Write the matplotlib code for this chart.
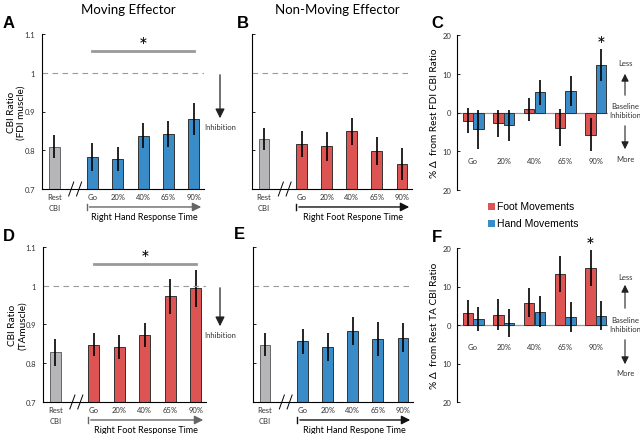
import numpy as np
import matplotlib.pyplot as plt
from matplotlib.patches import Rectangle

plt.rcParams['font.family'] = ['Lato', 'DejaVu Sans']

conds = ['Go', '20%', '40%', '65%', '90%']
bar_labels = ['Rest\nCBI'] + conds
xpos = [0, 1.5, 2.5, 3.5, 4.5, 5.5]  # rest bar, then the 5 response-time bins

# CBI ratios (rest + 5 bins), A/B = FDI muscle, D/E = TA muscle
a_mean = [0.809, 0.783, 0.778, 0.838, 0.842, 0.881]
a_err = [0.030, 0.036, 0.031, 0.032, 0.033, 0.041]
b_mean = [0.829, 0.816, 0.810, 0.849, 0.797, 0.765]
b_err = [0.029, 0.034, 0.037, 0.035, 0.036, 0.042]
d_mean = [0.828, 0.848, 0.843, 0.874, 0.973, 0.993]
d_err = [0.034, 0.030, 0.031, 0.031, 0.045, 0.048]
e_mean = [0.848, 0.857, 0.843, 0.883, 0.863, 0.866]
e_err = [0.030, 0.032, 0.036, 0.036, 0.044, 0.037]

# % change from rest CBI ratio
c_foot = [-2.1, -2.8, 0.8, -3.9, -5.7]
c_foot_err = [3.3, 3.4, 2.9, 4.8, 4.2]
c_hand = [-4.3, -3.3, 5.2, 5.5, 12.2]
c_hand_err = [5.0, 4.0, 3.2, 3.9, 4.1]
f_foot = [3.2, 2.7, 5.8, 13.2, 14.8]
f_foot_err = [3.4, 4.0, 3.8, 4.7, 4.7]
f_hand = [1.5, 0.6, 3.5, 2.1, 2.4]
f_hand_err = [3.1, 3.6, 4.0, 3.8, 3.8]

BLUE = '#3a8cc8'
RED = '#dc5552'
GRAY = '#b6b6b8'
W, H = 640, 435


def fp(x, y):
    return (x / W, 1 - y / H)


def cbi_panel(ax, means, errs, color, xlab, ylab=None, sig=False, arrow_col='#444'):
    cols = [GRAY] + [color] * 5
    edges = ['#666'] + ['#333'] * 5
    ax.bar(xpos, means, width=0.43, color=cols, edgecolor=edges, linewidth=0.7)
    ax.errorbar(xpos, means, yerr=errs, fmt='none', ecolor='k', elinewidth=1.2, capsize=0)
    ax.axhline(1.0, color='#999', ls=(0, (5, 4)), lw=0.8)
    ax.set_ylim(0.7, 1.1)
    ax.set_xlim(-0.48, 5.9)
    for s in ['top', 'right']:
        ax.spines[s].set_visible(False)
    ax.spines['left'].set_linewidth(0.8)
    ax.spines['bottom'].set_linewidth(0.8)
    ax.set_yticks([0.7, 0.8, 0.9, 1.0, 1.1])
    if ylab:
        ax.set_yticklabels(['0.7', '0.8', '0.9', '1', '1.1'], fontsize=5.5, color='#333')
        ax.set_ylabel(ylab, fontsize=7.2, linespacing=1.15)
        ax.yaxis.set_label_coords(-0.1, 0.5)
    else:
        ax.set_yticklabels([])
    ax.tick_params(axis='y', direction='in', length=2, width=0.6, pad=5)
    ax.set_xticks(xpos)
    ax.set_xticklabels(bar_labels, fontsize=5.5, color='#333', linespacing=1.6)
    ax.tick_params(axis='x', length=0, pad=3)
    # axis break marks
    for xb in (0.67, 0.98):
        ax.plot([xb - 0.1, xb + 0.1], [0.682, 0.718], color='k', lw=0.7, clip_on=False)
    # response-time arrow
    tr = ax.get_xaxis_transform()
    ax.annotate('', xy=(5.9, -0.116), xytext=(1.28, -0.116), xycoords=tr, textcoords=tr,
                arrowprops=dict(arrowstyle='-|>', color=arrow_col, lw=1.0, mutation_scale=13))
    ax.plot([1.28, 1.28], [-0.095, -0.137], color=arrow_col, lw=1.0, transform=tr, clip_on=False)
    ax.text(3.55, -0.178, xlab, transform=tr, ha='center', va='center', fontsize=6.5)
    if sig:
        ax.plot([1.5, 5.5], [1.056, 1.056], color='#999', lw=2)
        ax.text(3.5, 1.068, '*', ha='center', va='center', fontsize=15)


def pct_panel(ax, foot, foot_err, hand, hand_err, ylab, lab_y, star):
    x = np.arange(len(conds))
    ax.bar(x - 0.17, foot, width=0.34, color=RED, edgecolor='#333', linewidth=0.7)
    ax.bar(x + 0.18, hand, width=0.34, color=BLUE, edgecolor='#333', linewidth=0.7)
    ax.errorbar(x - 0.17, foot, yerr=foot_err, fmt='none', ecolor='k', elinewidth=1.2, capsize=0)
    ax.errorbar(x + 0.18, hand, yerr=hand_err, fmt='none', ecolor='k', elinewidth=1.2, capsize=0)
    ax.axhline(0, color='#999', lw=0.9, zorder=0)
    ax.set_ylim(-20, 20)
    ax.set_xlim(-0.52, 4.4)
    for s in ['top', 'right', 'bottom']:
        ax.spines[s].set_visible(False)
    ax.spines['left'].set_linewidth(0.8)
    ax.set_yticks([-20, -10, 0, 10, 20])
    ax.set_yticklabels(['20', '10', '0', '10', '20'], fontsize=5.5, color='#333')
    ax.tick_params(axis='y', direction='in', length=2, width=0.6, pad=4)
    ax.set_xticks([])
    for xi, c in zip(x, conds):
        ax.text(xi, lab_y, c, ha='center', va='center', fontsize=5.5, color='#333')
    ax.set_ylabel(ylab, fontsize=7.3)
    ax.yaxis.set_label_coords(-0.12, 0.5)
    ax.text(star[0], star[1], '*', ha='center', va='center', fontsize=15, clip_on=False)


fig = plt.figure(figsize=(6.4, 4.35), dpi=100)

axA = fig.add_axes([42 / W, 1 - 190 / H, 162 / W, 155 / H])
axB = fig.add_axes([252 / W, 1 - 190 / H, 160 / W, 155 / H])
axD = fig.add_axes([43 / W, 1 - 403 / H, 163 / W, 155 / H])
axE = fig.add_axes([253 / W, 1 - 403 / H, 160 / W, 155 / H])
axC = fig.add_axes([457 / W, 1 - 191 / H, 151 / W, 155 / H])
axF = fig.add_axes([457 / W, 1 - 403 / H, 151 / W, 154 / H])

cbi_panel(axA, a_mean, a_err, BLUE, 'Right Hand Response Time', 'CBI Ratio\n(FDI muscle)', sig=True, arrow_col='#666')
cbi_panel(axB, b_mean, b_err, RED, 'Right Foot Respone Time', arrow_col='#111')
cbi_panel(axD, d_mean, d_err, RED, 'Right Foot Response Time', 'CBI Ratio\n(TAmuscle)', sig=True, arrow_col='#666')
cbi_panel(axE, e_mean, e_err, BLUE, 'Right Hand Respone Time', arrow_col='#111')

pct_panel(axC, c_foot, c_foot_err, c_hand, c_hand_err, '% \u0394  from Rest FDI CBI Ratio', -12.5, (4.18, 17.5))
pct_panel(axF, f_foot, f_foot_err, f_hand, f_hand_err, '% \u0394  from Rest TA CBI Ratio', -5.5, (3.83, 20.5))

# titles and panel letters
fig.text(*fp(128, 10), 'Moving Effector', ha='center', va='center', fontsize=9.5)
fig.text(*fp(337, 10), 'Non-Moving Effector', ha='center', va='center', fontsize=9.5)
for lab, (x, y) in {'A': (9, 24), 'B': (243, 24), 'C': (437, 24),
                    'D': (9, 237), 'E': (239, 235), 'F': (437, 238)}.items():
    fig.text(*fp(x, y), lab, ha='center', va='center', fontsize=12, fontweight='bold',
             family=['Liberation Sans', 'DejaVu Sans'])

# inhibition arrows next to A and D
for y0, y1 in ((73, 122), (286, 330)):
    fig.add_artist(plt.Annotation('', xy=fp(220, y1), xytext=fp(220, y0), xycoords='figure fraction',
                                  arrowprops=dict(arrowstyle='-|>', color='#222', lw=0.9, mutation_scale=14)))
    fig.text(*fp(220, y1 + 6), 'Inhibition', ha='center', va='center', fontsize=5.5, color='#333')

# less / more inhibition guides next to C and F
for yl, yup, ybase, ydn, ymore in ((63, (99, 72), 111, (124, 153), 160),
                                    (278, (312, 283), 325, (338, 368), 374)):
    fig.text(*fp(625, yl), 'Less', ha='center', va='center', fontsize=5.5, color='#333')
    fig.text(*fp(625, ybase), 'Baseline\nInhibition', ha='center', va='center', fontsize=5.5,
             color='#333', linespacing=1.2)
    fig.text(*fp(625, ymore), 'More', ha='center', va='center', fontsize=5.5, color='#333')
    fig.add_artist(plt.Annotation('', xy=fp(625, yup[1]), xytext=fp(625, yup[0]), xycoords='figure fraction',
                                  arrowprops=dict(arrowstyle='-|>', color='#222', lw=0.8, mutation_scale=11)))
    fig.add_artist(plt.Annotation('', xy=fp(625, ydn[1]), xytext=fp(625, ydn[0]), xycoords='figure fraction',
                                  arrowprops=dict(arrowstyle='-|>', color='#222', lw=0.8, mutation_scale=11)))

# legend
for (y, col, txt) in ((207, RED, 'Foot Movements'), (224, BLUE, 'Hand Movements')):
    fig.add_artist(Rectangle(fp(488, y + 3.5), 7 / W, 7 / H, transform=fig.transFigure,
                             facecolor=col, edgecolor='none'))
    fig.text(*fp(497, y), txt, ha='left', va='center', fontsize=7.5,
             family=['Liberation Sans', 'DejaVu Sans'])

fig.savefig('out.png', dpi=100)
